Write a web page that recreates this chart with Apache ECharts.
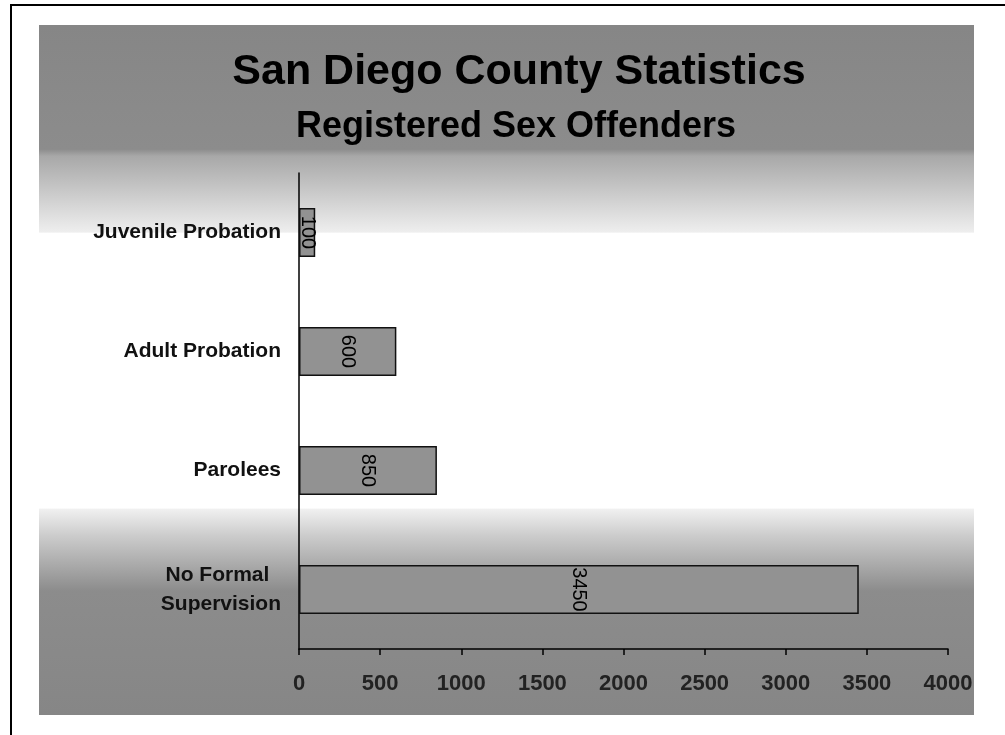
<!DOCTYPE html>
<html>
<head>
<meta charset="utf-8">
<script src="https://cdn.jsdelivr.net/npm/echarts@6/dist/echarts.min.js"></script>
<style>html,body{margin:0;padding:0;background:#fff}#c{width:1005px;height:735px}</style>
</head>
<body>
<div id="c"></div>
<script>
const titleText = 'San Diego County Statistics';
const subtitleText = 'Registered Sex Offenders';
const categories = ['Juvenile Probation', 'Adult Probation', 'Parolees', 'No Formal\nSupervision'];
const values = [100, 600, 850, 3450];
const xMin = 0, xMax = 4000, xStep = 500;

const chart = echarts.init(document.getElementById('c'), null, {renderer: 'canvas'});
const F = 'Liberation Sans, Arial, sans-serif';
chart.setOption({
  animation: false,
  backgroundColor: '#ffffff',
  graphic: [
    {type: 'rect', z: -100, shape: {x: 11, y: 5, width: 1010, height: 750},
     style: {fill: '#ffffff', stroke: '#000', lineWidth: 2}},
    {type: 'rect', z: -90, shape: {x: 39, y: 25, width: 935, height: 690},
     style: {fill: new echarts.graphic.LinearGradient(0, 0, 0, 1, [
       {offset: 0, color: '#868686'},
       {offset: 0.18, color: '#8c8c8c'},
       {offset: 0.19, color: '#a8a8a8'},
       {offset: 0.30, color: '#eeeeee'},
       {offset: 0.302, color: '#ffffff'},
       {offset: 0.70, color: '#ffffff'},
       {offset: 0.702, color: '#f0f0f0'},
       {offset: 0.74, color: '#cccccc'},
       {offset: 0.82, color: '#8c8c8c'},
       {offset: 1, color: '#868686'}
     ])}}
  ],
  title: [
    {text: titleText, left: 514, top: 46, textAlign: 'center',
     textStyle: {fontFamily: F, fontSize: 43, fontWeight: 'bold', color: '#000'}},
    {text: subtitleText, left: 511, top: 104, textAlign: 'center',
     textStyle: {fontFamily: F, fontSize: 36, fontWeight: 'bold', color: '#000'}}
  ],
  grid: {left: 299, top: 173, width: 649, height: 476, containLabel: false},
  xAxis: {
    type: 'value', min: xMin, max: xMax, interval: xStep,
    axisLine: {show: true, lineStyle: {color: '#000', width: 1.5}},
    axisTick: {show: true, length: 6, lineStyle: {color: '#000', width: 1.5}},
    splitLine: {show: false},
    axisLabel: {fontFamily: F, fontSize: 22, fontWeight: 'bold', color: '#222', margin: 24,
      formatter: v => String(v)}
  },
  yAxis: {
    type: 'category', data: categories, inverse: true,
    axisLine: {show: true, lineStyle: {color: '#000', width: 1.5}},
    axisTick: {show: false},
    axisLabel: {fontFamily: F, fontSize: 21, fontWeight: 'bold', color: '#111', margin: 18,
      lineHeight: 29, formatter: v => v.replace('\n', '  \n')}
  },
  series: [{
    type: 'bar', data: values, barWidth: 49,
    itemStyle: {color: '#929292', borderColor: '#111', borderWidth: 1.5},
    label: {show: true, position: 'inside', rotate: -90, fontFamily: F, fontSize: 20, color: '#000'}
  }]
});
</script>
</body>
</html>
